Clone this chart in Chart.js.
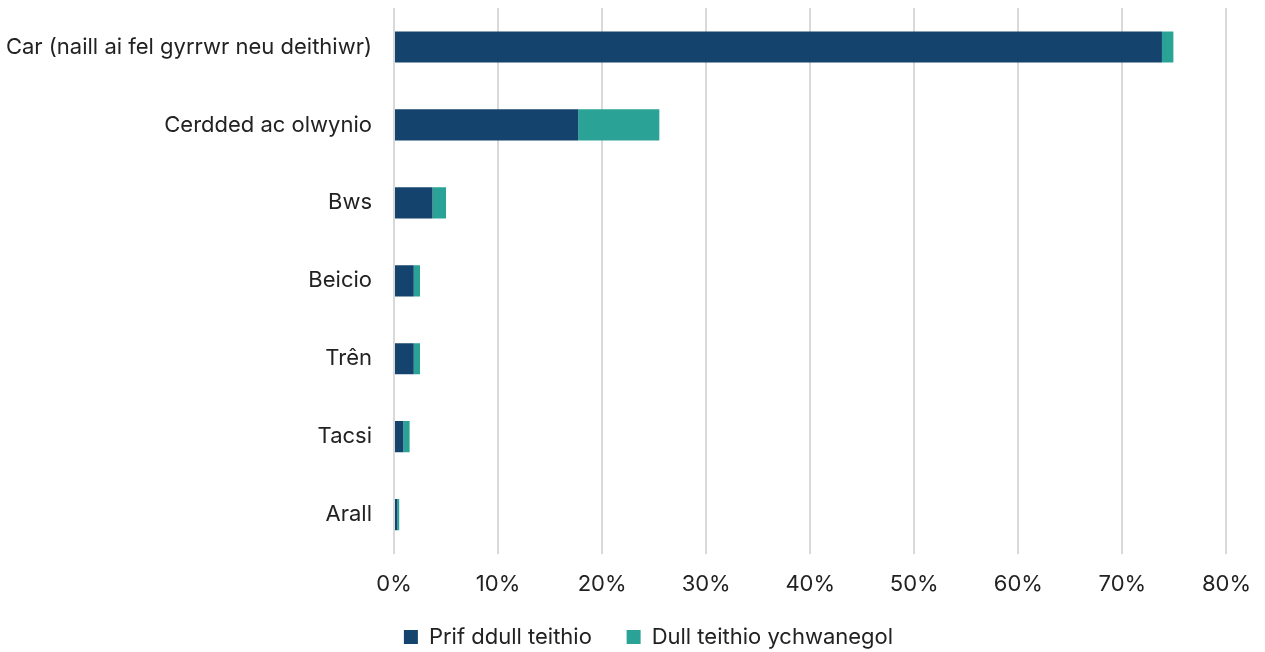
<!DOCTYPE html>
<html><head><meta charset="utf-8">
<script src="https://cdn.jsdelivr.net/npm/chart.js@4/dist/chart.umd.min.js"></script>
<style>html,body{margin:0;padding:0;background:#fff;}</style>
</head><body>
<canvas id="c" width="1265" height="652"></canvas>
<script>
const categories = ["Car (naill ai fel gyrrwr neu deithiwr)", "Cerdded ac olwynio", "Bws", "Beicio", "Trên", "Tacsi", "Arall"];
const mainMode = [73.8, 17.7, 3.7, 1.9, 1.9, 0.9, 0.3];
const additionalMode = [1.1, 7.8, 1.3, 0.6, 0.6, 0.6, 0.2];
const seriesNames = ["Prif ddull teithio", "Dull teithio ychwanegol"];
const xTicks = [0, 10, 20, 30, 40, 50, 60, 70, 80];

const FONT = "Inter, 'Open Sans', sans-serif";
const legendShift = {
  id: 'legendShift',
  afterLayout(chart) {
    if (chart.legend) { chart.legend.left += 16; chart.legend.right += 16; }
  }
};
new Chart(document.getElementById('c'), {
  type: 'bar',
  data: {
    labels: categories,
    datasets: [
      {label: seriesNames[0], data: mainMode, backgroundColor: '#14446d', barPercentage: 0.4, categoryPercentage: 1},
      {label: seriesNames[1], data: additionalMode, backgroundColor: '#2aa396', barPercentage: 0.4, categoryPercentage: 1}
    ]
  },
  plugins: [legendShift],
  options: {
    responsive: false,
    animation: false,
    indexAxis: 'y',
    layout: {padding: {top: 8, right: 0, left: 0, bottom: -6}},
    plugins: {
      legend: {
        position: 'bottom',
        labels: {
          font: {family: FONT, size: 22}, color: '#222', boxWidth: 14, boxHeight: 14, padding: 10,
          generateLabels: chart => Chart.defaults.plugins.legend.labels.generateLabels(chart).map((l, i) => {
            if (i === 0) l.text = l.text + '    ';
            return l;
          })
        }
      },
      tooltip: {enabled: false}
    },
    scales: {
      x: {
        stacked: true, min: 0, max: 80,
        afterBuildTicks: s => { s.ticks = xTicks.map(v => ({value: v})); },
        afterFit: s => { s.paddingRight = s.paddingRight - 4; },
        ticks: {callback: v => v + '%', font: {family: FONT, size: 22}, color: '#222', padding: 18},
        grid: {color: '#d9d9d9', lineWidth: 2, drawTicks: false},
        border: {display: false}
      },
      y: {
        stacked: true,
        afterFit: s => { s.width = 394; s.paddingTop = 0; s.paddingBottom = 0; },
        ticks: {font: {family: FONT, size: 22}, color: '#222', padding: 22},
        grid: {display: false, drawTicks: false},
        border: {display: false}
      }
    }
  }
});
</script>
</body></html>
